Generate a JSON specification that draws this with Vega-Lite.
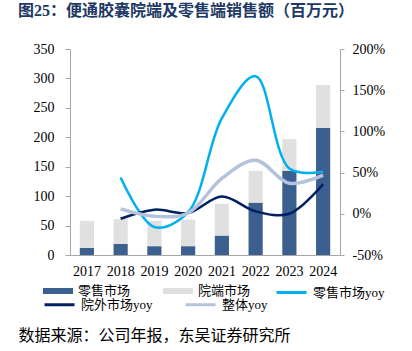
{
  "$schema": "https://vega.github.io/schema/vega-lite/v6.json",
  "width": 270,
  "height": 206,
  "autosize": {"type": "none"},
  "padding": {"left": 70, "top": 49, "right": 72, "bottom": 96},
  "background": "white",
  "title": {
    "text": "图25：便通胶囊院端及零售端销售额（百万元）",
    "anchor": "start",
    "frame": "group",
    "dx": -52,
    "offset": 23,
    "font": "Liberation Serif, Noto Sans CJK SC",
    "fontSize": 16,
    "fontWeight": "bold",
    "color": "#203864"
  },
  "config": {
    "view": {"stroke": null},
    "font": "Liberation Serif, Noto Sans CJK SC",
    "axis": {"grid": false, "labelFont": "Liberation Serif, Noto Sans CJK SC", "labelColor": "#000000", "domainColor": "#a6a6a6", "tickColor": "#a6a6a6", "labelFontSize": 14},
    "legend": {"labelFont": "Liberation Serif, Noto Sans CJK SC", "labelFontSize": 13, "labelColor": "#000000", "title": null}
  },
  "datasets": {
    "bars": [
      {"year": "2017", "series": "零售市场", "value": 12},
      {"year": "2018", "series": "零售市场", "value": 19},
      {"year": "2019", "series": "零售市场", "value": 15},
      {"year": "2020", "series": "零售市场", "value": 15},
      {"year": "2021", "series": "零售市场", "value": 33},
      {"year": "2022", "series": "零售市场", "value": 89},
      {"year": "2023", "series": "零售市场", "value": 143},
      {"year": "2024", "series": "零售市场", "value": 216},
      {"year": "2017", "series": "院端市场", "value": 46},
      {"year": "2018", "series": "院端市场", "value": 42},
      {"year": "2019", "series": "院端市场", "value": 43},
      {"year": "2020", "series": "院端市场", "value": 45},
      {"year": "2021", "series": "院端市场", "value": 54},
      {"year": "2022", "series": "院端市场", "value": 54},
      {"year": "2023", "series": "院端市场", "value": 54},
      {"year": "2024", "series": "院端市场", "value": 73}
    ],
    "lines": [
      {"year": "2018", "series": "零售市场yoy", "yoy": 44},
      {"year": "2019", "series": "零售市场yoy", "yoy": -16},
      {"year": "2020", "series": "零售市场yoy", "yoy": 2},
      {"year": "2021", "series": "零售市场yoy", "yoy": 116},
      {"year": "2022", "series": "零售市场yoy", "yoy": 167},
      {"year": "2023", "series": "零售市场yoy", "yoy": 55},
      {"year": "2024", "series": "零售市场yoy", "yoy": 51},
      {"year": "2018", "series": "院外市场yoy", "yoy": -6},
      {"year": "2019", "series": "院外市场yoy", "yoy": 5},
      {"year": "2020", "series": "院外市场yoy", "yoy": 1},
      {"year": "2021", "series": "院外市场yoy", "yoy": 21},
      {"year": "2022", "series": "院外市场yoy", "yoy": 3},
      {"year": "2023", "series": "院外市场yoy", "yoy": 0},
      {"year": "2024", "series": "院外市场yoy", "yoy": 36},
      {"year": "2018", "series": "整体yoy", "yoy": 6},
      {"year": "2019", "series": "整体yoy", "yoy": -3},
      {"year": "2020", "series": "整体yoy", "yoy": 1},
      {"year": "2021", "series": "整体yoy", "yoy": 43},
      {"year": "2022", "series": "整体yoy", "yoy": 65},
      {"year": "2023", "series": "整体yoy", "yoy": 37},
      {"year": "2024", "series": "整体yoy", "yoy": 47}
    ]
  },
  "layer": [
    {
      "data": {"name": "bars"},
      "mark": {"type": "bar"},
      "encoding": {
        "x": {
          "field": "year", "type": "ordinal",
          "scale": {"domain": ["2017","2018","2019","2020","2021","2022","2023","2024"], "paddingInner": 0.58, "paddingOuter": 0.29},
          "axis": {"title": "数据来源：公司年报，东吴证券研究所", "titleFont": "Liberation Serif, Noto Sans CJK SC", "titleFontSize": 16, "titleFontWeight": "normal", "titleColor": "#000000", "titleX": -52, "titleY": 80, "titleAlign": "left", "titleBaseline": "middle", "titleAnchor": null, "ticks": false, "labelAngle": 0, "labelPadding": 9}
        },
        "y": {
          "field": "value", "type": "quantitative", "stack": "zero",
          "scale": {"domain": [0, 350]},
          "axis": {"title": null, "values": [0,50,100,150,200,250,300,350], "tickSize": 5, "labelPadding": 11, "orient": "left"}
        },
        "fill": {
          "field": "series", "type": "nominal",
          "scale": {"domain": ["零售市场", "院端市场"], "range": ["#3b5f8f", "#e0e0e0"]},
          "legend": {"orient": "none", "legendX": -27, "legendY": 227, "direction": "horizontal", "columns": 2, "columnPadding": 32, "symbolType": "M-1,-0.2H1V0.2H-1Z", "symbolSize": 900, "symbolStrokeWidth": 0, "labelOffset": 5}
        },
        "order": {"field": "series", "sort": "descending"}
      }
    },
    {
      "layer": [
        {
          "data": {"name": "lines"},
          "transform": [{"filter": "datum.series === '零售市场yoy'"}],
          "mark": {"type": "line", "interpolate": "catmull-rom", "strokeWidth": 2.5},
          "encoding": {
            "x": {"field": "year", "type": "ordinal"},
            "y": {"field": "yoy", "type": "quantitative", "scale": {"domain": [-50, 200]}, "axis": {"title": null, "orient": "right", "values": [-50,0,50,100,150,200], "labelExpr": "datum.value + '%'", "tickSize": 4, "labelPadding": 8}},
            "stroke": {
              "field": "series", "type": "nominal",
              "scale": {"domain": ["零售市场yoy"], "range": ["#00b0f0"]},
              "legend": {"orient": "none", "legendX": 205, "legendY": 227, "symbolType": "stroke", "symbolSize": 900, "symbolStrokeWidth": 3, "labelOffset": 5}
            }
          }
        },
        {
          "data": {"name": "lines"},
          "transform": [{"filter": "datum.series === '院外市场yoy'"}],
          "mark": {"type": "line", "interpolate": "catmull-rom", "strokeWidth": 2.5},
          "encoding": {
            "x": {"field": "year", "type": "ordinal"},
            "y": {"field": "yoy", "type": "quantitative", "scale": {"domain": [-50, 200]}, "axis": {"title": null, "orient": "right", "values": [-50,0,50,100,150,200], "labelExpr": "datum.value + '%'", "tickSize": 4, "labelPadding": 8}},
            "color": {
              "field": "series", "type": "nominal",
              "scale": {"domain": ["院外市场yoy", "整体yoy"], "range": ["#002060", "#b4c2dc"]},
              "legend": {"orient": "none", "legendX": -27, "legendY": 239, "direction": "horizontal", "columns": 2, "columnPadding": 26, "symbolType": "stroke", "symbolSize": 900, "symbolStrokeWidth": 3, "labelOffset": 5}
            }
          }
        },
        {
          "data": {"name": "lines"},
          "transform": [{"filter": "datum.series === '整体yoy'"}],
          "mark": {"type": "line", "interpolate": "catmull-rom", "strokeWidth": 3.5},
          "encoding": {
            "x": {"field": "year", "type": "ordinal"},
            "y": {"field": "yoy", "type": "quantitative", "scale": {"domain": [-50, 200]}, "axis": {"title": null, "orient": "right", "values": [-50,0,50,100,150,200], "labelExpr": "datum.value + '%'", "tickSize": 4, "labelPadding": 8}},
            "color": {"field": "series", "type": "nominal"}
          }
        }
      ]
    }
  ],
  "resolve": {"scale": {"y": "independent"}}
}
